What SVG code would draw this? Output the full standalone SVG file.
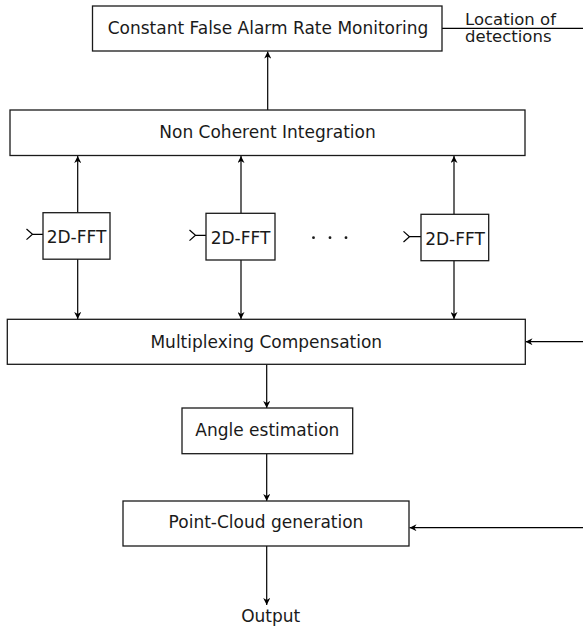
<svg xmlns="http://www.w3.org/2000/svg" width="583" height="626" viewBox="0 0 583 626">
<style>
  .box { fill: #ffffff; stroke: #1a1a1a; stroke-width: 1.3; }
  .lbl { font-family: "DejaVu Sans", Verdana, sans-serif; font-size: 17px; fill: #1a1a1a; text-anchor: middle; }
  .side { font-family: "DejaVu Sans", Verdana, sans-serif; font-size: 16.5px; fill: #1a1a1a; }
  .conn { fill: none; stroke: #000000; stroke-width: 1.2; }
</style>
<defs>
  <marker id="arr" viewBox="0 0 10 10" refX="10" refY="5" markerWidth="7" markerHeight="7" markerUnits="userSpaceOnUse" orient="auto">
    <path d="M0,0 L10,5 L0,10 L3,5 Z" fill="#000000"/>
  </marker>
</defs>
<rect width="583" height="626" fill="#ffffff"/>

<g id="connectors">
  <path class="conn" d="M267.7,110 L267.7,51.5" marker-end="url(#arr)"/>
  <path class="conn" d="M442,28.3 L583,28.3"/>
  <path class="conn" d="M77.7,212.7 L77.7,156" marker-end="url(#arr)"/>
  <path class="conn" d="M241,213.3 L241,156" marker-end="url(#arr)"/>
  <path class="conn" d="M454,214.3 L454,156" marker-end="url(#arr)"/>
  <path class="conn" d="M77.7,259 L77.7,319" marker-end="url(#arr)"/>
  <path class="conn" d="M241,260 L241,319" marker-end="url(#arr)"/>
  <path class="conn" d="M454,260.7 L454,319" marker-end="url(#arr)"/>
  <path class="conn" d="M583,341.7 L525.5,341.7" marker-end="url(#arr)"/>
  <path class="conn" d="M266.7,364.3 L266.7,408" marker-end="url(#arr)"/>
  <path class="conn" d="M266.7,453.7 L266.7,501" marker-end="url(#arr)"/>
  <path class="conn" d="M583,527.7 L409.5,527.7" marker-end="url(#arr)"/>
  <path class="conn" d="M266.7,546 L266.7,605" marker-end="url(#arr)"/>
  <path class="conn" d="M26.5,229 L32.5,234.3 L26.5,239.6 M32.5,234.3 L43,234.3"/>
  <path class="conn" d="M189.5,230 L195.5,235.3 L189.5,240.6 M195.5,235.3 L206,235.3"/>
  <path class="conn" d="M403.5,231.4 L409.5,236.7 L403.5,242 M409.5,236.7 L421,236.7"/>
</g>

<g id="cfar">
  <rect class="box" x="92.5" y="6" width="349.5" height="45"/>
  <text class="lbl" x="268" y="34.3">Constant False Alarm Rate Monitoring</text>
</g>
<g id="location-label">
  <text class="side" x="465" y="25.3">Location of</text>
  <text class="side" x="465" y="41.8">detections</text>
</g>
<g id="nci">
  <rect class="box" x="10" y="110" width="515" height="45.5"/>
  <text class="lbl" x="267.5" y="137.7">Non Coherent Integration</text>
</g>
<g id="fft1">
  <rect class="box" x="43" y="212.7" width="67" height="46.5"/>
  <text class="lbl" x="76.5" y="243.3">2D-FFT</text>
</g>
<g id="fft2">
  <rect class="box" x="206" y="213.3" width="69" height="46.7"/>
  <text class="lbl" x="240.5" y="244">2D-FFT</text>
</g>
<g id="fft3">
  <rect class="box" x="421" y="214.3" width="67.7" height="46.4"/>
  <text class="lbl" x="455" y="245.2">2D-FFT</text>
</g>
<g id="ellipsis">
  <circle cx="313.5" cy="237.7" r="1.4" fill="#1a1a1a"/>
  <circle cx="330" cy="237.7" r="1.4" fill="#1a1a1a"/>
  <circle cx="346" cy="237.7" r="1.4" fill="#1a1a1a"/>
</g>
<g id="mux">
  <rect class="box" x="7.3" y="319.3" width="518" height="45"/>
  <text class="lbl" x="266.3" y="347.5">Multiplexing Compensation</text>
</g>
<g id="angle">
  <rect class="box" x="182" y="408" width="170.7" height="45.7"/>
  <text class="lbl" x="267.3" y="435.7">Angle estimation</text>
</g>
<g id="pointcloud">
  <rect class="box" x="123" y="501" width="286" height="45"/>
  <text class="lbl" x="266" y="528.3">Point-Cloud generation</text>
</g>
<g id="output">
  <text class="lbl" x="270.7" y="621.5">Output</text>
</g>
</svg>
